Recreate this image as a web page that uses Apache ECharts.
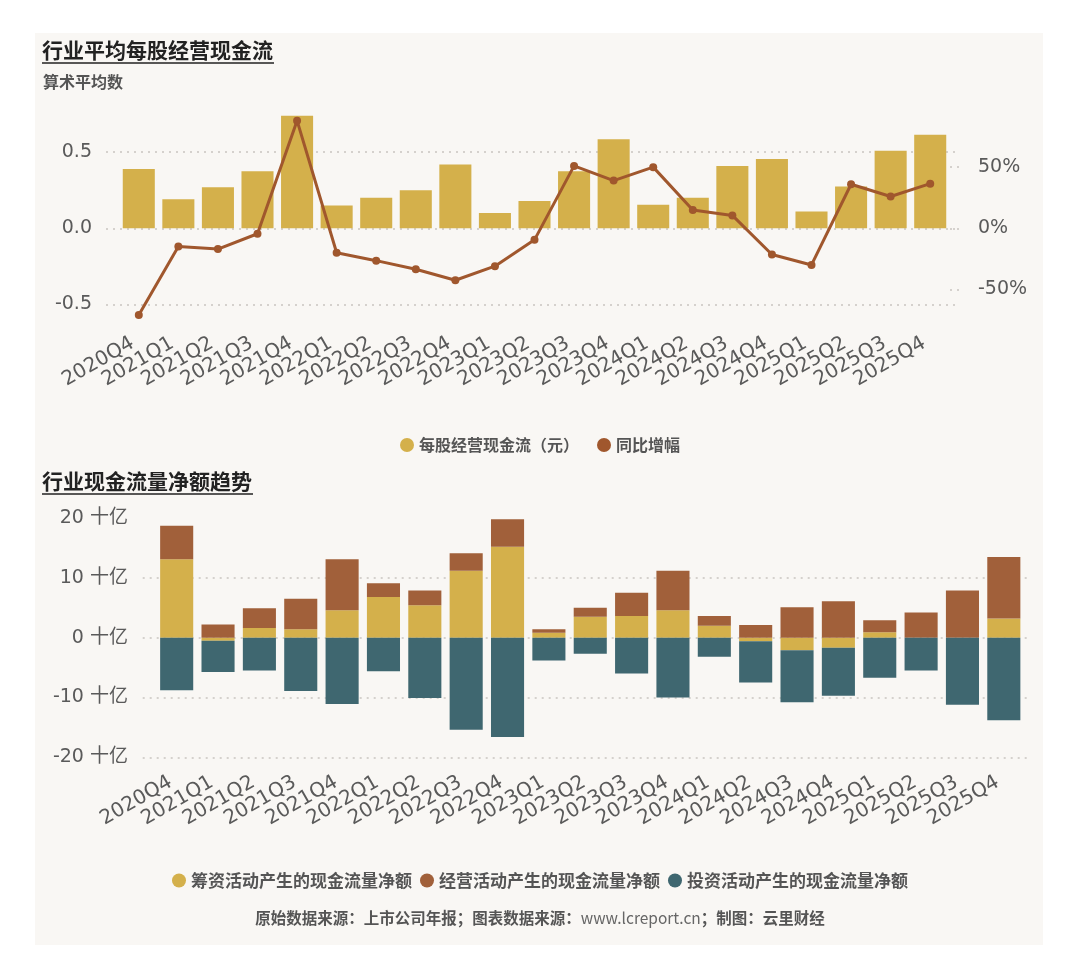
<!DOCTYPE html>
<html>
<head>
<meta charset="utf-8">
<title>行业现金流</title>
<script src="https://cdn.jsdelivr.net/npm/echarts@6/dist/echarts.min.js"></script>
<style>
html,body{margin:0;padding:0;background:#fff;}
#main{width:1080px;height:978px;}
</style>
</head>
<body>
<div id="main"></div>
<script>
//季度
var quarters = ['2020Q4','2021Q1','2021Q2','2021Q3','2021Q4','2022Q1','2022Q2','2022Q3','2022Q4',
	'2023Q1','2023Q2','2023Q3','2023Q4','2024Q1','2024Q2','2024Q3','2024Q4','2025Q1','2025Q2','2025Q3','2025Q4'];
//每股经营现金流（元）
var perShareCash = [0.39,0.19,0.27,0.375,0.74,0.15,0.20,0.25,0.42,0.10,0.18,
	0.375,0.585,0.155,0.20,0.41,0.455,0.11,0.275,0.51,0.615];
//同比增幅 %
var yoyGrowth = [-71,-15,-17,-4.5,88,-20,-26.5,-33.5,-42.5,-31,-9.5,
	51,39,50,15,10.5,-21.5,-30,36,26,36.5];
//筹资 / 经营 / 投资 现金流量净额（十亿）
var financeNet = [13.1,-0.5,1.6,1.4,4.6,6.8,5.4,11.2,15.2,0.8,3.5,3.6,4.6,2.0,-0.6,-2.1,-1.7,0.9,0,0,3.2];
var operateNet = [5.6,2.2,3.3,5.1,8.5,2.3,2.5,2.9,4.6,0.6,1.5,3.9,6.6,1.6,2.1,5.1,6.1,2.0,4.2,7.9,10.3];
var investNet = [-8.8,-5.25,-5.5,-8.9,-11.1,-5.6,-10.1,-15.4,-16.6,-3.8,-2.7,-6.0,-10.0,-3.2,-6.9,-8.7,-8.0,-6.7,-5.5,-11.2,-13.8];
//刻度
var leftTicks = [-0.5,0,0.5];
var rightTicks = [-50,0,50];
var bottomTicks = [-20,-10,0,10,20];

var cYellow = '#d4b04b';
var cBrown = '#a1603a';
var cTeal = '#3f6770';
var cLine = '#a0572d';
var labelFont = 'DejaVu Sans, Noto Sans CJK SC';
var cjkFont = 'Noto Sans CJK SC';
var dotLine = {color:'#c9c5c0', width:1.5, type:[2,5]};

function xAxisCfg(grid,margin){
	return {
		type:'category', gridIndex:grid, data:quarters,
		axisLine:{show:false}, axisTick:{show:false},
		axisLabel:{interval:0, rotate:30, margin:margin, padding:[0,7,0,0],
			color:'#5a5a5a', fontSize:20, fontFamily:labelFont}
	};
}
//只用来画延伸出去的虚线网格
function lineGridAxis(grid,min,max,interval){
	return {
		type:'value', gridIndex:grid, min:min, max:max, interval:interval,
		axisLine:{show:false}, axisTick:{show:false}, axisLabel:{show:false},
		splitLine:{show:true, showMaxLine:false, lineStyle:dotLine}
	};
}
function hiddenX(grid){
	return {type:'value', gridIndex:grid, min:0, max:1, show:false, splitLine:{show:false}};
}

var footBold = {font:'bold 15.5px "Noto Sans CJK SC"', fill:'#555'};
var footThin = {font:'15.5px "Noto Sans CJK SC"', fill:'#666'};

var chart = echarts.init(document.getElementById('main'));
var option = {
	backgroundColor:'#ffffff',
	animation:false,
	graphic:[
		{type:'rect', z:-10, shape:{x:35,y:33,width:1008,height:912}, style:{fill:'#f9f7f4'}},
		{type:'text', left:42, top:40, style:{text:'行业平均每股经营现金流', font:'bold 21px "Noto Sans CJK SC"', fill:'#222'}},
		{type:'line', shape:{x1:42,y1:63,x2:274,y2:63}, style:{stroke:'#222', lineWidth:1.5}},
		{type:'text', left:43, top:74, style:{text:'算术平均数', font:'bold 16px "Noto Sans CJK SC"', fill:'#555'}},
		{type:'text', left:42, top:471, style:{text:'行业现金流量净额趋势', font:'bold 21px "Noto Sans CJK SC"', fill:'#222'}},
		{type:'line', shape:{x1:42,y1:494,x2:253,y2:494}, style:{stroke:'#222', lineWidth:1.5}},
		{type:'text', left:'center', top:910, style:{
			text:'{b|原始数据来源：上市公司年报；图表数据来源：}{n|www.lcreport.cn}{b|；制图：云里财经}',
			rich:{b:footBold, n:footThin}}}
	],
	legend:[
		{left:'center', top:432, icon:'circle', itemWidth:14, itemHeight:14, itemGap:18,
			textStyle:{fontSize:16, fontWeight:'bold', color:'#555', fontFamily:cjkFont},
			data:['每股经营现金流（元）','同比增幅']},
		{left:'center', top:867, icon:'circle', itemWidth:14, itemHeight:14, itemGap:8,
			textStyle:{fontSize:17, fontWeight:'bold', color:'#555', fontFamily:cjkFont},
			data:['筹资活动产生的现金流量净额','经营活动产生的现金流量净额','投资活动产生的现金流量净额']}
	],
	grid:[
		{left:119, right:130, top:114.2, bottom:673.7},
		{left:106, right:122, top:114.2, bottom:673.7},
		{left:156, right:55.5, top:518, bottom:220.7},
		{left:142.7, right:48.3, top:518, bottom:220.7}
	],
	xAxis:[xAxisCfg(0,34), hiddenX(1), xAxisCfg(2,20), hiddenX(3)],
	yAxis:[
		{type:'value', gridIndex:0, min:-0.5, max:0.75, interval:0.5,
			axisLine:{show:false}, axisTick:{show:false}, splitLine:{show:false},
			axisLabel:{customValues:leftTicks, margin:27, color:'#5a5a5a', fontSize:19, fontFamily:labelFont,
				formatter:function(v){return v.toFixed(1);}}},
		{type:'value', gridIndex:0, position:'right', min:-62.2, max:93.3,
			axisLine:{show:false}, splitLine:{show:false},
			axisTick:{show:true, customValues:rightTicks, length:12, lineStyle:dotLine},
			axisLabel:{customValues:rightTicks, margin:28, color:'#5a5a5a', fontSize:19, fontFamily:labelFont,
				formatter:function(v){return v+'%';}}},
		lineGridAxis(1,-0.5,0.75,0.5),
		{type:'value', gridIndex:2, min:bottomTicks[0], max:bottomTicks[bottomTicks.length-1], interval:10,
			axisLine:{show:false}, axisTick:{show:false}, splitLine:{show:false},
			axisLabel:{margin:28, color:'#5a5a5a', fontSize:19, fontFamily:labelFont,
				formatter:function(v){return v+' 十亿';}}},
		lineGridAxis(3,-20,20,10)
	],
	series:[
		{name:'每股经营现金流（元）', type:'bar', xAxisIndex:0, yAxisIndex:0, data:perShareCash,
			barCategoryGap:'19%', itemStyle:{color:cYellow}},
		{name:'同比增幅', type:'line', xAxisIndex:0, yAxisIndex:1, data:yoyGrowth, clip:false,
			symbol:'circle', symbolSize:8, lineStyle:{color:cLine, width:3}, itemStyle:{color:cLine}},
		{name:'筹资活动产生的现金流量净额', type:'bar', xAxisIndex:2, yAxisIndex:3, stack:'cf', data:financeNet,
			barCategoryGap:'20%', itemStyle:{color:cYellow}},
		{name:'经营活动产生的现金流量净额', type:'bar', xAxisIndex:2, yAxisIndex:3, stack:'cf', data:operateNet,
			itemStyle:{color:cBrown}},
		{name:'投资活动产生的现金流量净额', type:'bar', xAxisIndex:2, yAxisIndex:3, stack:'cf', data:investNet,
			itemStyle:{color:cTeal}}
	]
};
chart.setOption(option);
</script>
</body>
</html>
